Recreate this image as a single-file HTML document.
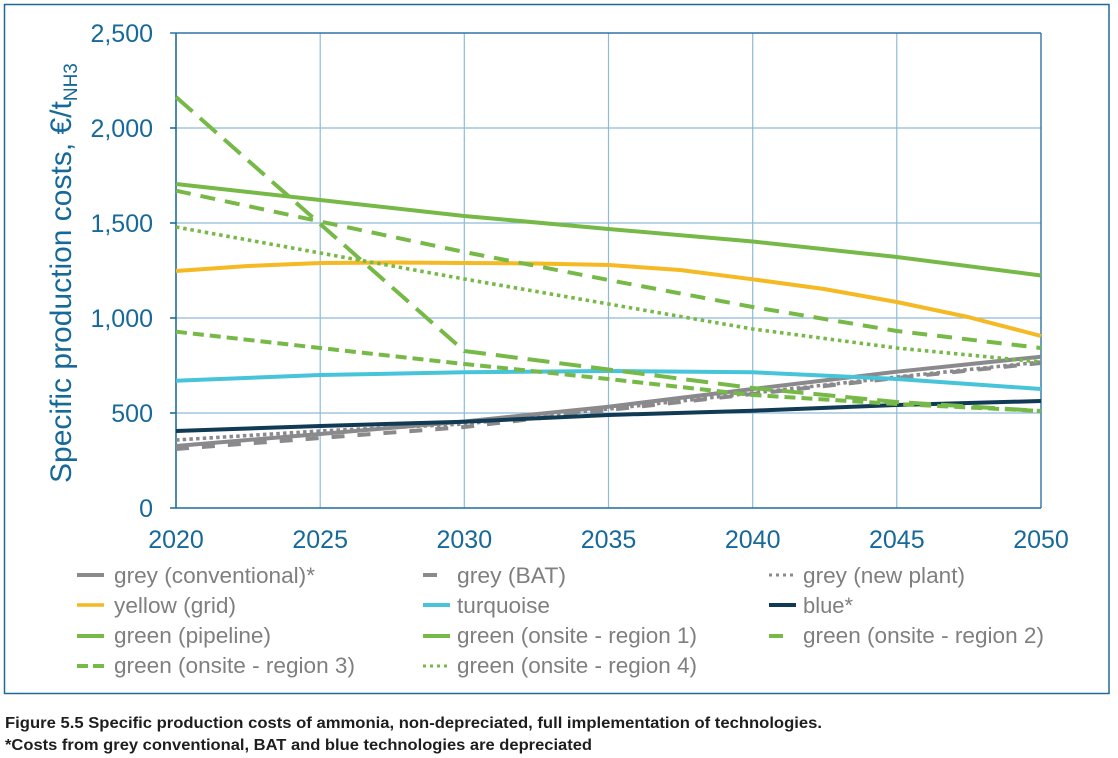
<!DOCTYPE html>
<html>
<head>
<meta charset="utf-8">
<style>
  html, body { margin: 0; padding: 0; background: #ffffff; }
  svg { display: block; }
  .tick { font-family: "Liberation Sans", Arial, sans-serif; font-size: 25px; fill: #17699a; }
  .leg { font-family: "Liberation Sans", Arial, sans-serif; font-size: 22.5px; fill: #7f7f7f; }
  .cap { font-family: "Liberation Sans Narrow", "Liberation Sans", Arial, sans-serif; font-size: 16px; font-weight: bold; fill: #1e1e1e; }
</style>
</head>
<body>
<svg width="1118" height="758" viewBox="0 0 1118 758" xmlns="http://www.w3.org/2000/svg">
  <rect x="0" y="0" width="1118" height="758" fill="#ffffff"/>
  <!-- outer frame -->
  <rect x="4.5" y="4.5" width="1104.5" height="689" fill="none" stroke="#1d6b96" stroke-width="1.5"/>

  <!-- gridlines -->
  <g stroke="#8dbbd8" stroke-width="1.2">
    <line x1="176" y1="128" x2="1041" y2="128"/>
    <line x1="176" y1="223" x2="1041" y2="223"/>
    <line x1="176" y1="318" x2="1041" y2="318"/>
    <line x1="176" y1="413" x2="1041" y2="413"/>
    <line x1="320.2" y1="33" x2="320.2" y2="508"/>
    <line x1="464.3" y1="33" x2="464.3" y2="508"/>
    <line x1="608.5" y1="33" x2="608.5" y2="508"/>
    <line x1="752.7" y1="33" x2="752.7" y2="508"/>
    <line x1="896.8" y1="33" x2="896.8" y2="508"/>
  </g>
  <!-- top & right frame -->
  <g stroke="#2f74a5" stroke-width="1.4">
    <line x1="170" y1="33" x2="1041" y2="33"/>
    <line x1="1041" y1="33" x2="1041" y2="508"/>
  </g>
  <!-- axes -->
  <g stroke="#1f6d9b" stroke-width="1.6">
    <line x1="176" y1="33" x2="176" y2="508"/>
    <line x1="170" y1="508" x2="1041" y2="508"/>
    <line x1="170" y1="128" x2="176" y2="128"/>
    <line x1="170" y1="223" x2="176" y2="223"/>
    <line x1="170" y1="318" x2="176" y2="318"/>
    <line x1="170" y1="413" x2="176" y2="413"/>
  </g>

  <!-- y tick labels -->
  <g class="tick" text-anchor="end">
    <text x="153" y="42">2,500</text>
    <text x="153" y="137">2,000</text>
    <text x="153" y="232">1,500</text>
    <text x="153" y="327">1,000</text>
    <text x="153" y="422">500</text>
    <text x="153" y="517">0</text>
  </g>
  <!-- x tick labels -->
  <g class="tick" text-anchor="middle">
    <text x="176" y="548">2020</text>
    <text x="320.2" y="548">2025</text>
    <text x="464.3" y="548">2030</text>
    <text x="608.5" y="548">2035</text>
    <text x="752.7" y="548">2040</text>
    <text x="896.8" y="548">2045</text>
    <text x="1041" y="548">2050</text>
  </g>

  <!-- y axis title -->
  <text transform="translate(71,483) rotate(-90)" font-family="Liberation Sans, Arial, sans-serif" font-size="30" fill="#17699a">Specific production costs, €/t<tspan font-size="19" dy="6">NH3</tspan></text>

  <!-- series -->
  <g fill="none" stroke-width="4" stroke-linejoin="round">
    <!-- grey conventional -->
    <polyline stroke="#8a8a8c" points="176,446 320.2,434 464.3,421.5 608.5,406.7 752.7,389 896.8,371.7 1041,356.7"/>
    <!-- grey BAT dashed -->
    <polyline stroke="#8a8a8c" stroke-dasharray="13 13" points="176,449 320.2,438 464.3,427 608.5,410 752.7,394 896.8,378 1041,363"/>
    <!-- grey new plant dotted -->
    <polyline stroke="#8a8a8c" stroke-width="3.6" stroke-dasharray="3.5 3.2" points="176,440 320.2,431 464.3,424 608.5,409 752.7,393 896.8,377 1041,362"/>
    <!-- yellow -->
    <polyline stroke="#f4b923" points="176,271 248,266 320.2,263 392,262.5 464.3,263 536,263.5 608.5,265 680,270 752.7,279.3 824,289 896.8,302 968,317 1041,336"/>
    <!-- turquoise -->
    <polyline stroke="#47c3da" points="176,380.7 320.2,375 464.3,372.3 608.5,371 752.7,372.3 896.8,379 1041,389"/>
    <!-- blue -->
    <polyline stroke="#113a55" points="176,431 320.2,426 464.3,421.7 608.5,415 752.7,410.7 896.8,405 1041,401"/>
    <!-- green pipeline / region 1 -->
    <polyline stroke="#76b947" points="176,184 320.2,200 464.3,216 608.5,229 752.7,241.5 896.8,257 1041,275.5"/>
    <!-- region 2 long dash -->
    <polyline stroke="#76b947" stroke-dasharray="22 10" points="176,97 320.2,224 464.3,351 608.5,369.5 752.7,388 896.8,402 1041,411"/>
    <!-- region dashed (from 1670) -->
    <polyline stroke="#76b947" stroke-dasharray="15 10" points="176,190.7 320.2,221.5 464.3,252 608.5,280 752.7,307 896.8,331 1041,348"/>
    <!-- region 3 dashed (from 930) -->
    <polyline stroke="#76b947" stroke-dasharray="11 6" points="176,331.7 320.2,348 464.3,364 608.5,379 752.7,395 896.8,404 1041,411"/>
    <!-- region 4 dotted -->
    <polyline stroke="#76b947" stroke-width="3.6" stroke-dasharray="3.5 3.8" points="176,227 320.2,253 464.3,279 608.5,304 752.7,329 896.8,348 1041,362"/>
  </g>

  <!-- legend markers -->
  <g fill="none" stroke-width="4">
    <line x1="77" y1="575" x2="104" y2="575" stroke="#8a8a8c"/>
    <line x1="77" y1="605" x2="104" y2="605" stroke="#f4b923" stroke-width="3.5"/>
    <line x1="77" y1="636" x2="104" y2="636" stroke="#76b947"/>
    <line x1="77" y1="666" x2="104" y2="666" stroke="#76b947" stroke-dasharray="11 5"/>

    <line x1="423" y1="575" x2="437" y2="575" stroke="#8a8a8c"/>
    <line x1="423" y1="605" x2="450" y2="605" stroke="#47c3da"/>
    <line x1="423" y1="636" x2="450" y2="636" stroke="#76b947"/>
    <line x1="423" y1="666" x2="450" y2="666" stroke="#76b947" stroke-width="3" stroke-dasharray="3 4"/>

    <line x1="769" y1="575" x2="796" y2="575" stroke="#8a8a8c" stroke-width="3" stroke-dasharray="3 4"/>
    <line x1="769" y1="605" x2="796" y2="605" stroke="#113a55"/>
    <line x1="769" y1="636" x2="783" y2="636" stroke="#76b947"/>
  </g>
  <!-- legend text -->
  <g class="leg">
    <text x="114" y="583" textLength="201" lengthAdjust="spacingAndGlyphs">grey (conventional)*</text>
    <text x="114" y="613" textLength="122" lengthAdjust="spacingAndGlyphs">yellow (grid)</text>
    <text x="114" y="643" textLength="157" lengthAdjust="spacingAndGlyphs">green (pipeline)</text>
    <text x="114" y="673" textLength="241" lengthAdjust="spacingAndGlyphs">green (onsite - region 3)</text>

    <text x="457" y="583" textLength="109" lengthAdjust="spacingAndGlyphs">grey (BAT)</text>
    <text x="457" y="613" textLength="93" lengthAdjust="spacingAndGlyphs">turquoise</text>
    <text x="457" y="643" textLength="240" lengthAdjust="spacingAndGlyphs">green (onsite - region 1)</text>
    <text x="457" y="673" textLength="240" lengthAdjust="spacingAndGlyphs">green (onsite - region 4)</text>

    <text x="803" y="583" textLength="162" lengthAdjust="spacingAndGlyphs">grey (new plant)</text>
    <text x="803" y="613" textLength="50" lengthAdjust="spacingAndGlyphs">blue*</text>
    <text x="803" y="643" textLength="241" lengthAdjust="spacingAndGlyphs">green (onsite - region 2)</text>
  </g>

  <!-- caption -->
  <text class="cap" x="5" y="728" textLength="817" lengthAdjust="spacingAndGlyphs">Figure 5.5 Specific production costs of ammonia, non-depreciated, full implementation of technologies.</text>
  <text class="cap" x="5" y="750" textLength="587" lengthAdjust="spacingAndGlyphs">*Costs from grey conventional, BAT and blue technologies are depreciated</text>
</svg>
</body>
</html>
